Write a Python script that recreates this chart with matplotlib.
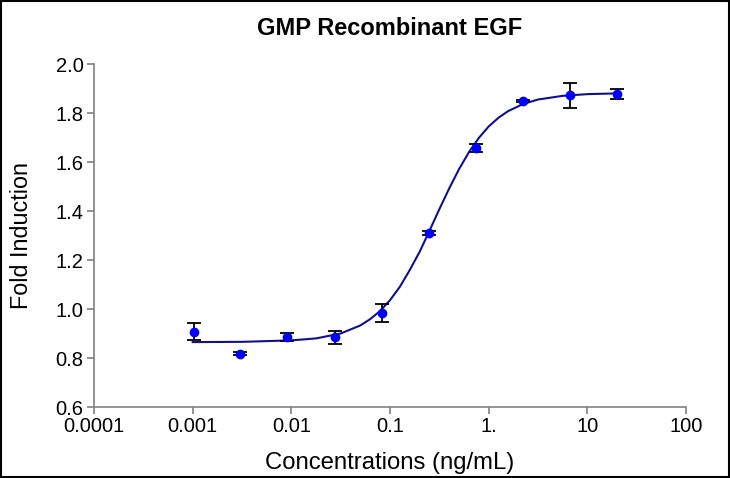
import numpy as np
import matplotlib
matplotlib.use('Agg')
import matplotlib.pyplot as plt
from matplotlib.patches import Rectangle

plt.rcParams['font.family'] = ['Liberation Sans', 'DejaVu Sans']

# measured points (3-fold dilution series)
conc = [0.00102, 0.00305, 0.00914, 0.0274, 0.0823, 0.247, 0.741, 2.22, 6.67, 20.0]
fold = [0.908, 0.818, 0.886, 0.884, 0.983, 1.310, 1.657, 1.849, 1.872, 1.879]
err = [0.035, 0.005, 0.018, 0.025, 0.038, 0.008, 0.015, 0.006, 0.052, 0.021]

# fitted curve
curve_x = [0.001, 0.00316, 0.01, 0.0178, 0.0316, 0.0501, 0.0631, 0.0794, 0.1, 0.126,
           0.158, 0.2, 0.251, 0.316, 0.398, 0.501, 0.631, 0.794, 1.0, 1.26,
           1.58, 2.24, 3.16, 5.62, 10.0, 20.0]
curve_y = [0.865, 0.866, 0.872, 0.880, 0.900, 0.933, 0.959, 0.992, 1.036, 1.091,
           1.158, 1.234, 1.319, 1.407, 1.492, 1.571, 1.640, 1.698, 1.745, 1.781,
           1.808, 1.837, 1.855, 1.870, 1.877, 1.880]

xticks = [0.0001, 0.001, 0.01, 0.1, 1, 10, 100]
xtick_labels = ['0.0001', '0.001', '0.01', '0.1', '1.', '10', '100']
yticks = [0.6, 0.8, 1.0, 1.2, 1.4, 1.6, 1.8, 2.0]

fig = plt.figure(figsize=(7.3, 4.78), dpi=100)
ax = fig.add_axes([0.1288, 0.1485, 0.8109, 0.7176])

ax.plot(curve_x, curve_y, color='#10108f', lw=1.5, zorder=2)
ax.errorbar(conc, fold, yerr=err, fmt='none', ecolor='black', elinewidth=1.3,
            capsize=5, capthick=1.3, zorder=3)
ax.plot(conc, fold, 'o', color='#0000ff', markersize=6, zorder=4)

ax.set_xscale('log')
ax.set_xlim(0.0001, 100)
ax.set_ylim(0.6, 2.0)
ax.set_xticks(xticks)
ax.set_xticklabels(xtick_labels)
ax.xaxis.set_minor_locator(matplotlib.ticker.NullLocator())
ax.set_yticks(yticks)
ax.set_yticklabels([f'{v:.1f}' for v in yticks])

for s in ['top', 'right']:
    ax.spines[s].set_visible(False)
for s in ['left', 'bottom']:
    ax.spines[s].set_color('#808080')
    ax.spines[s].set_linewidth(1.2)
ax.tick_params(axis='both', direction='out', length=5, width=1.2, color='#808080',
               labelsize=14.5, labelcolor='black', pad=2.5)

ax.set_xlabel('Concentrations (ng/mL)', fontsize=17.2, labelpad=11)
ax.set_ylabel('Fold Induction', fontsize=16.8, labelpad=16)
fig.text(0.534, 0.940, 'GMP Recombinant EGF', ha='center', va='center',
         fontsize=17, fontweight='bold')

fig.add_artist(Rectangle((0.002, 0.003), 0.996, 0.994, transform=fig.transFigure,
                         fill=False, edgecolor='black', lw=1.5))

fig.savefig('out.png', dpi=100)
